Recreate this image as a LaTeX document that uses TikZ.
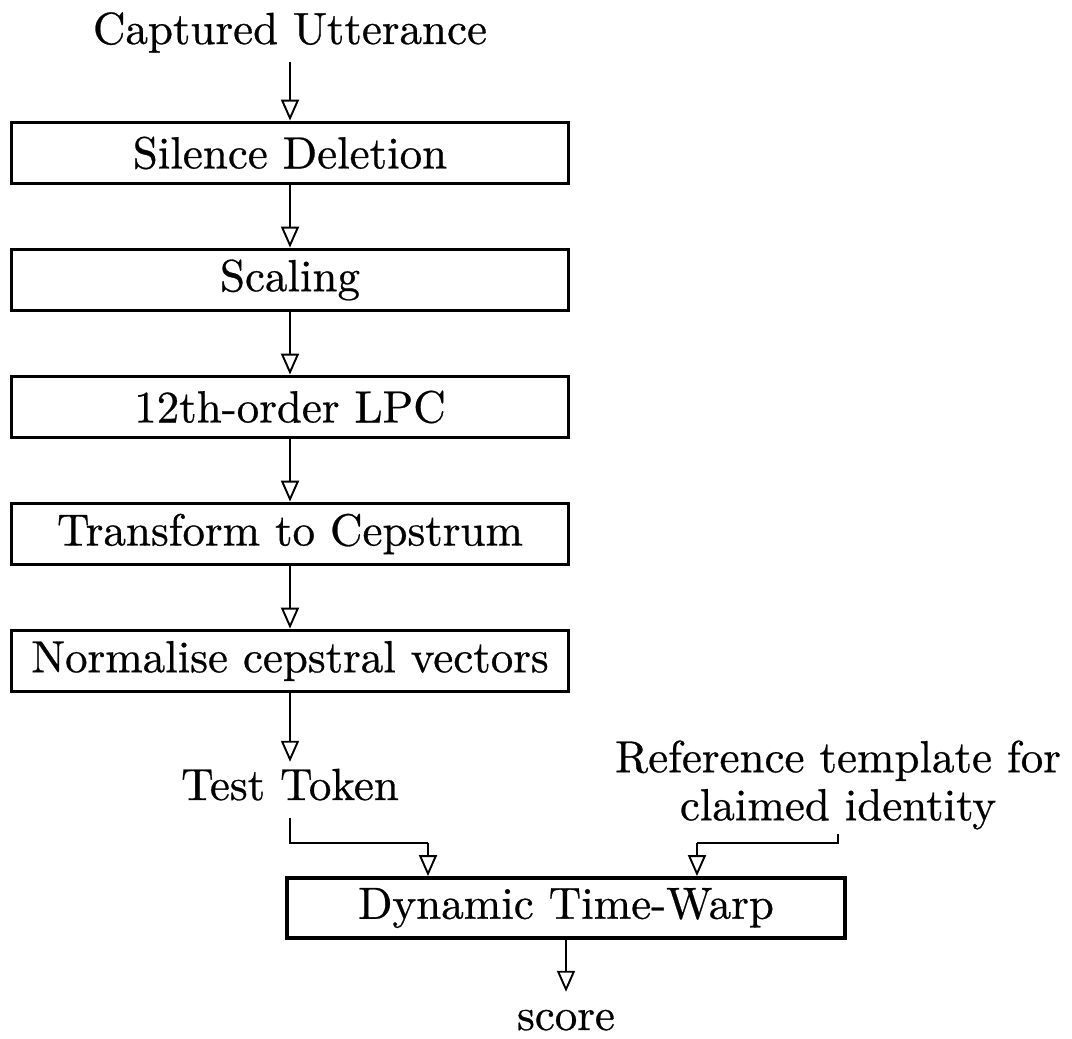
\documentclass[tikz,border=0pt]{standalone}
\usepackage{fontspec}
\usetikzlibrary{arrows.meta}
% regular optical size of Latin Modern, slightly emboldened for large display text
\newfontfamily\diagfont{lmroman10-regular.otf}[FakeBold=0.6]
\begin{document}
\begin{tikzpicture}[x=1pt,y=-1pt,
  every node/.style={font=\diagfont\fontsize{45}{48}\selectfont},
  stage/.style={draw,line width=3.8pt,minimum width=557pt,minimum height=61pt,inner sep=0pt},
  lbl/.style={inner xsep=0pt,inner ysep=7pt,text height=31pt,text depth=11pt},
  flow/.style={line width=1.9pt,-{Triangle[open,length=21pt,width=18pt,line width=1.9pt]}},
  link/.style={line width=1.9pt}]
\useasboundingbox (0,0) rectangle (1072,1039);

% input label and processing chain
\node[lbl,anchor=base] (cap) at (290,44) {Captured Utterance};
\node[stage] (b1) at (290,153) {Silence Deletion};
\node[stage] (b2) at (290,280) {Scaling};
\node[stage] (b3) at (290,407) {12th-order LPC};
\node[stage] (b4) at (290,534) {Transform to Cepstrum};
\node[stage] (b5) at (290,661) {Normalise cepstral vectors};
\node[lbl,anchor=base] (tt) at (290,800) {Test Token};
\node[align=center,inner sep=4pt] (ref) at (838,785) {Reference template for\\claimed identity};

% matching stage and result
\node[stage,minimum width=558pt,minimum height=60pt] (dtw) at (566,908) {Dynamic Time-Warp};
\node[lbl,anchor=base] (score) at (566,1030) {score};

\draw[flow] (cap) -- (b1);
\draw[flow] (b1) -- (b2);
\draw[flow] (b2) -- (b3);
\draw[flow] (b3) -- (b4);
\draw[flow] (b4) -- (b5);
\draw[flow] (b5) -- (tt);

\coordinate (jl) at (428,843);
\coordinate (jr) at (697,843);
\draw[link] (tt.south) |- (jl);
\draw[flow] (jl) -- (jl |- dtw.north);
\draw[link] (ref.south) |- (jr);
\draw[flow] (jr) -- (jr |- dtw.north);
\draw[flow] (dtw) -- (score);
\end{tikzpicture}
\end{document}
